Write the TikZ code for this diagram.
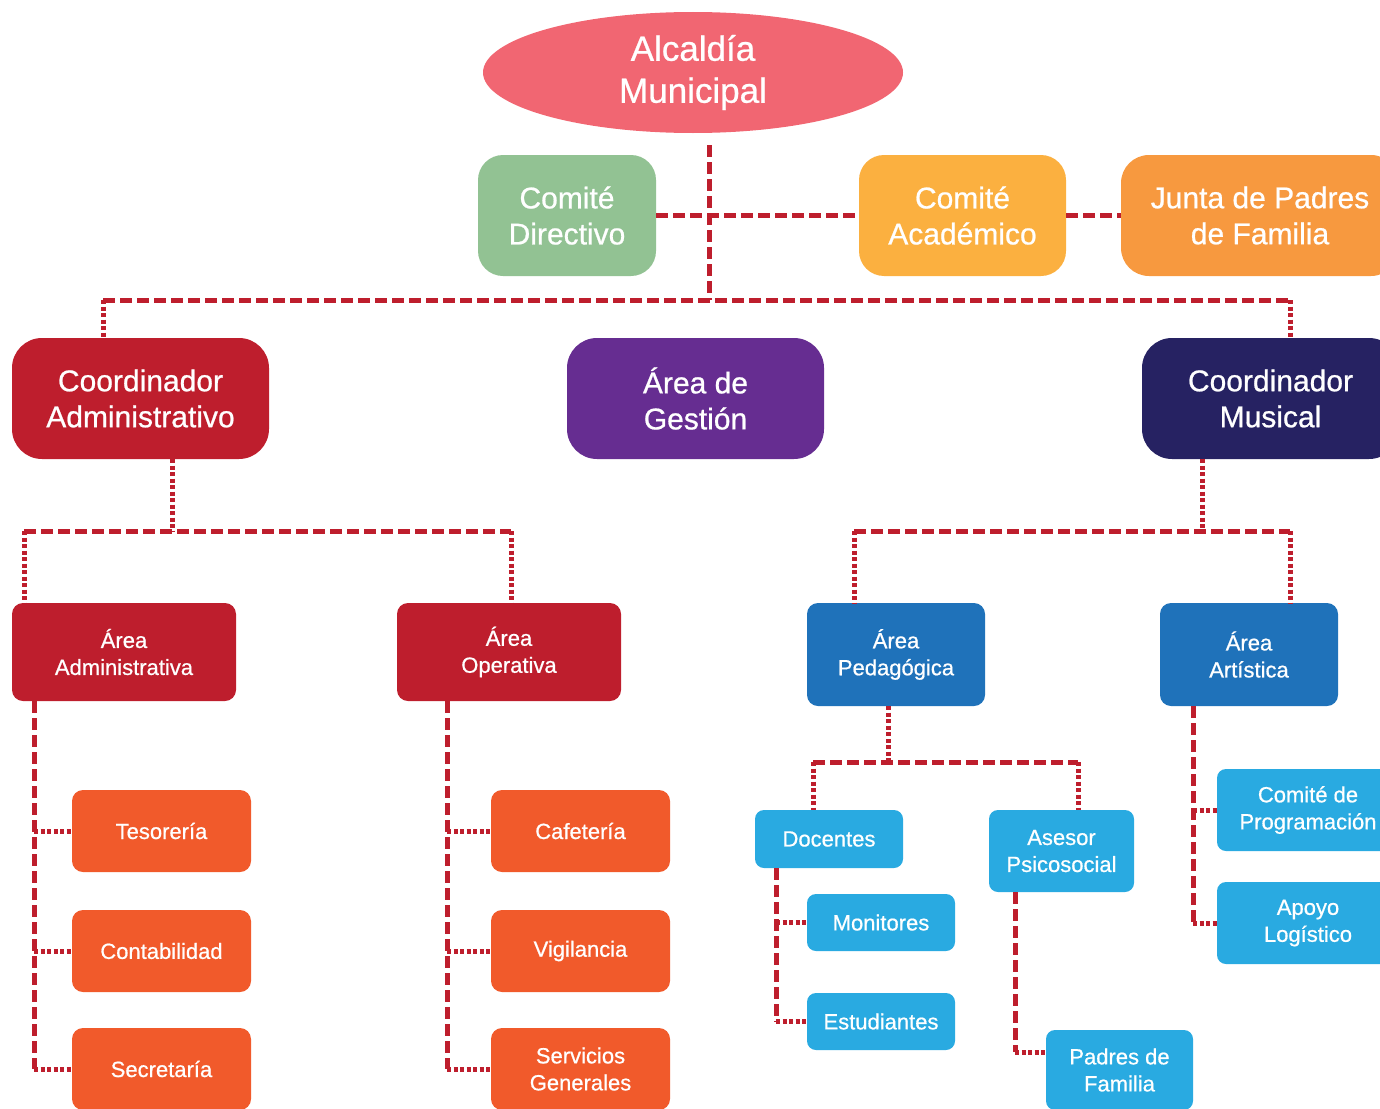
\documentclass[tikz,border=0pt]{standalone}
\usepackage{fontspec}
\setmainfont{Liberation Sans}[FakeBold=0.7]
\usetikzlibrary{shapes.geometric,calc}
\definecolor{cAlc}{HTML}{F16672}
\definecolor{cGreen}{HTML}{92C293}
\definecolor{cYel}{HTML}{FBB040}
\definecolor{cOrg}{HTML}{F7993F}
\definecolor{cRed}{HTML}{BE1E2D}
\definecolor{cPur}{HTML}{662D91}
\definecolor{cNavy}{HTML}{262262}
\definecolor{cBlue}{HTML}{1F72BA}
\definecolor{cOra}{HTML}{F15A2B}
\definecolor{cLight}{HTML}{29AAE1}
\begin{document}
\begin{tikzpicture}[x=1pt,y=-1pt,
  box/.style={rectangle,inner sep=0pt,text=white,align=center},
  bigtxt/.style={font=\fontsize{30}{36}\selectfont},
  smalltxt/.style={font=\fontsize{22}{27}\selectfont},
  bigbox/.style={box,bigtxt,rounded corners=30pt,minimum height=121pt},
  midbox/.style={box,smalltxt,rounded corners=11pt},
  smbox/.style={box,smalltxt,rounded corners=9pt},
  conn/.style={draw=cRed,line width=5pt,dash pattern=on 12pt off 5pt},
  stub/.style={draw=cRed,line width=5pt,dash pattern=on 4pt off 2.5pt}]
\useasboundingbox (0,0) rectangle (1380,1108);

% top
\node[ellipse,fill=cAlc,text=white,align=center,inner sep=0pt,minimum width=420pt,minimum height=121pt,font=\fontsize{35}{42}\selectfont] (alc) at (693,72.5) {Alcaldía\\Municipal};
\node[bigbox,fill=cGreen,rounded corners=25pt,minimum width=178pt] (cdir) at (567,215.5) {Comité\\Directivo};
\node[bigbox,fill=cYel,rounded corners=25pt,minimum width=207pt] (cacad) at (962.5,215.5) {Comité\\Académico};
\node[bigbox,fill=cOrg,rounded corners=28pt,minimum width=278pt] (junta) at (1260,215.5) {Junta de Padres\\de Familia};

% coordinators
\node[bigbox,fill=cRed,minimum width=257pt] (cadm) at (140.5,398.5) {Coordinador\\Administrativo};
\node[bigbox,fill=cPur,minimum width=257pt] (agest) at (695.5,398.5) {Área de\\Gestión};
\node[bigbox,fill=cNavy,minimum width=257pt] (cmus) at (1270.5,398.5) {Coordinador\\Musical};

% areas
\node[midbox,fill=cRed,minimum width=224pt,minimum height=98pt] (aadm) at (124,652) {Área\\Administrativa};
\node[midbox,fill=cRed,minimum width=224pt,minimum height=98pt] (aope) at (509,652) {Área\\Operativa};
\node[midbox,fill=cBlue,minimum width=178pt,minimum height=103pt] (aped) at (896,654.5) {Área\\Pedagógica};
\node[midbox,fill=cBlue,minimum width=178pt,minimum height=103pt] (aart) at (1249,654.5) {Área\\Artística};

% admin children
\node[midbox,fill=cOra,minimum width=179pt,minimum height=82pt] (tes) at (161.5,831) {Tesorería};
\node[midbox,fill=cOra,minimum width=179pt,minimum height=82pt] (cont) at (161.5,951) {Contabilidad};
\node[midbox,fill=cOra,minimum width=179pt,minimum height=82pt] (sec) at (161.5,1069) {Secretaría};
\node[midbox,fill=cOra,minimum width=179pt,minimum height=82pt] (caf) at (580.5,831) {Cafetería};
\node[midbox,fill=cOra,minimum width=179pt,minimum height=82pt] (vig) at (580.5,951) {Vigilancia};
\node[midbox,fill=cOra,minimum width=179pt,minimum height=82pt] (serv) at (580.5,1069) {Servicios\\Generales};

% pedagogic children
\node[smbox,fill=cLight,minimum width=148pt,minimum height=58pt] (doc) at (829,839) {Docentes};
\node[smbox,fill=cLight,minimum width=145pt,minimum height=82pt] (ases) at (1061.5,851) {Asesor\\Psicosocial};
\node[smbox,fill=cLight,minimum width=148pt,minimum height=57pt] (mon) at (881,922.5) {Monitores};
\node[smbox,fill=cLight,minimum width=148pt,minimum height=57pt] (est) at (881,1021.5) {Estudiantes};
\node[smbox,fill=cLight,minimum width=147pt,minimum height=80pt] (padres) at (1119.5,1070) {Padres de\\Familia};
\node[smbox,fill=cLight,minimum width=182pt,minimum height=82pt] (cprog) at (1308,810) {Comité de\\Programación};
\node[smbox,fill=cLight,minimum width=182pt,minimum height=82pt] (apoyo) at (1308,923) {Apoyo\\Logístico};

% ---- connectors ----
\coordinate (t0) at ([xshift=16pt,yshift=-12pt]alc.south);
\coordinate (bus1) at (t0 |- 0,300);
\draw[conn] (t0) -- (bus1);
\draw[conn] (cdir.east) -- (cacad.west);
\draw[conn] (cacad.east) -- (junta.west);
\coordinate (ca) at ([xshift=-37.5pt]cadm.north);
\coordinate (cm) at ([xshift=19.5pt]cmus.north);
\draw[conn] (ca |- bus1) -- (cm |- bus1);
\draw[stub] (ca |- bus1) -- (ca);
\draw[stub] (cm |- bus1) -- (cm);

% admin branch
\coordinate (ab) at ([xshift=31.5pt]cadm.south);
\coordinate (bus2) at (ab |- 0,531);
\coordinate (aa) at ([xshift=-100pt]aadm.north);
\coordinate (ao) at ([xshift=2pt]aope.north);
\draw[stub] (ab) -- (bus2);
\draw[conn] (aa |- bus2) -- (ao |- bus2);
\draw[stub] (aa |- bus2) -- (aa);
\draw[stub] (ao |- bus2) -- (ao);

% musical branch
\coordinate (mb) at ([xshift=-68.5pt]cmus.south);
\coordinate (bus3) at (mb |- 0,531);
\coordinate (ap) at ([xshift=-42pt]aped.north);
\coordinate (ar) at ([xshift=41pt]aart.north);
\draw[stub] (mb) -- (bus3);
\draw[conn] (ap |- bus3) -- (ar |- bus3);
\draw[stub] (ap |- bus3) -- (ap);
\draw[stub] (ar |- bus3) -- (ar);

% area administrativa children
\coordinate (aas) at ([xshift=-90pt]aadm.south);
\draw[conn] (aas) -- (aas |- sec.west);
\draw[stub] (aas |- tes.west) -- (tes.west);
\draw[stub] (aas |- cont.west) -- (cont.west);
\draw[stub] (aas |- sec.west) -- (sec.west);

% area operativa children
\coordinate (aos) at ([xshift=-62pt]aope.south);
\draw[conn] (aos) -- (aos |- serv.west);
\draw[stub] (aos |- caf.west) -- (caf.west);
\draw[stub] (aos |- vig.west) -- (vig.west);
\draw[stub] (aos |- serv.west) -- (serv.west);

% area pedagogica children
\coordinate (aps) at ([xshift=-8pt]aped.south);
\coordinate (bus4) at (aps |- 0,762);
\coordinate (dn) at ([xshift=-16pt]doc.north);
\coordinate (an) at ([xshift=16.5pt]ases.north);
\draw[stub] (aps) -- (bus4);
\draw[conn] (dn |- bus4) -- (an |- bus4);
\draw[stub] (dn |- bus4) -- (dn);
\draw[stub] (an |- bus4) -- (an);

\coordinate (ds) at ([xshift=-53pt]doc.south);
\draw[conn] (ds) -- (ds |- est.west);
\draw[stub] (ds |- mon.west) -- (mon.west);
\draw[stub] (ds |- est.west) -- (est.west);

\coordinate (as) at ([xshift=-46.5pt]ases.south);
\coordinate (pw) at ([yshift=18pt]padres.west);
\draw[conn] (as) -- (as |- pw);
\draw[stub] (as |- pw) -- (pw);

% area artistica children
\coordinate (ars) at ([xshift=-56pt]aart.south);
\draw[conn] (ars) -- (ars |- apoyo.west);
\draw[stub] (ars |- cprog.west) -- (cprog.west);
\draw[stub] (ars |- apoyo.west) -- (apoyo.west);
\end{tikzpicture}
\end{document}
